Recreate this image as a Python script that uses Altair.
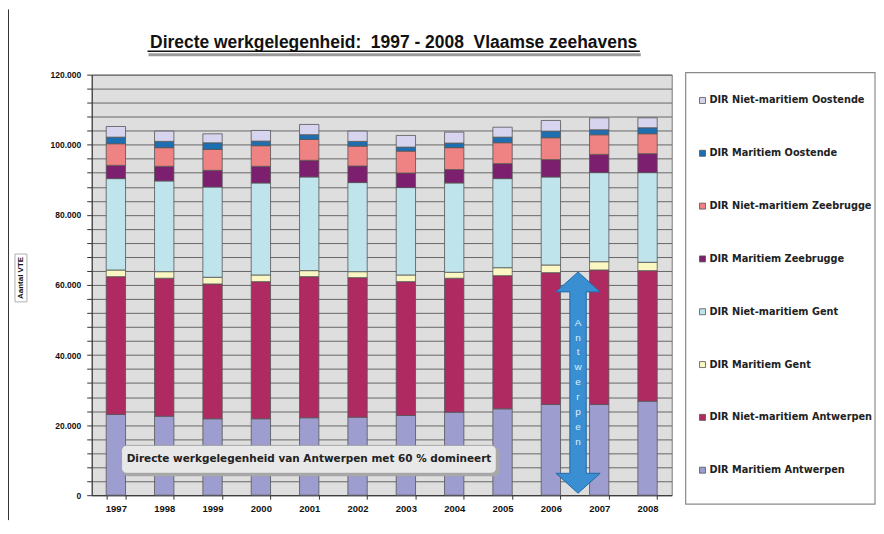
import altair as alt
import pandas as pd

FONT = "Liberation Sans"
WIDE = "DejaVu Sans"

years = ["1997", "1998", "1999", "2000", "2001", "2002",
         "2003", "2004", "2005", "2006", "2007", "2008"]

# stacking order: bottom -> top
series = [
    "DIR Maritiem Antwerpen",
    "DIR Niet-maritiem Antwerpen",
    "DIR Maritiem Gent",
    "DIR Niet-maritiem Gent",
    "DIR Maritiem Zeebrugge",
    "DIR Niet-maritiem Zeebrugge",
    "DIR Maritiem Oostende",
    "DIR Niet-maritiem Oostende",
]

mar_antwerpen = [23030, 22550, 21810, 21810, 22100, 22270, 22750, 23690, 24650, 25880, 25880, 26820]
niet_antwerpen = [39330, 39360, 38470, 39130, 40270, 39810, 38190, 38220, 37990, 37620, 38390, 37250]
mar_gent = [1900, 1880, 1900, 1900, 1710, 1710, 1900, 1710, 2280, 2190, 2360, 2390]
niet_gent = [26080, 25880, 25760, 26250, 26730, 25420, 24940, 25480, 25420, 25110, 25420, 25590]
mar_zeebrugge = [3780, 4180, 4750, 4750, 4750, 4720, 4150, 3810, 4270, 4950, 5200, 5400]
niet_zeebrugge = [6170, 5320, 5970, 5890, 5970, 5690, 6260, 6260, 5970, 6260, 5600, 5690]
mar_oostende = [1880, 1790, 1900, 1310, 1340, 1340, 1140, 1310, 1590, 1880, 1420, 1710]
niet_oostende = [3040, 2930, 2560, 3040, 2930, 2930, 3330, 3130, 2840, 3040, 3410, 2840]

colors = ["#9d9dd0", "#b02a62", "#fbf7c2", "#bfe4ec",
          "#7b1f6e", "#ef8282", "#1d6fb2", "#d6d4ee"]

NB = "\u00a0"
title_text = f"Directe werkgelegenheid:{NB} 1997 - 2008{NB} Vlaamse zeehavens"
note_text = "Directe werkgelegenheid van Antwerpen met 60 % domineert"
arrow_text = "Antwerpen"
y_title = "Aantal VTE"

values = [mar_antwerpen, niet_antwerpen, mar_gent, niet_gent,
          mar_zeebrugge, niet_zeebrugge, mar_oostende, niet_oostende]

rows = []
for i, (s, vals) in enumerate(zip(series, values)):
    for y, v in zip(years, vals):
        rows.append({"year": y, "series": s, "value": v, "idx": i})
df = pd.DataFrame(rows)

legend_order = series[::-1]
legend_colors = colors[::-1]

one = pd.DataFrame({"a": [0]})

bars = alt.Chart(df).mark_bar(stroke="#555555", strokeWidth=0.8).encode(
    x=alt.X("year:N", sort=years,
            scale=alt.Scale(paddingInner=0.6, paddingOuter=0.3),
            axis=alt.Axis(title=None, labelAngle=0, labelFont=FONT, labelFontSize=9.5,
                          labelFontWeight="bold", labelColor="#111", tickBand="extent",
                          tickSize=4, tickColor="#333", domainColor="#333",
                          labelPadding=4, grid=False)),
    y=alt.Y("value:Q", stack="zero",
            scale=alt.Scale(domain=[0, 120000], nice=False),
            axis=alt.Axis(title=None, values=list(range(0, 120001, 4000)),
                          labelExpr="datum.value % 20000 === 0 ? replace(format(datum.value, ','), ',', '.') : ''",
                          labelFont=FONT, labelFontSize=8.5, labelFontWeight="bold",
                          labelColor="#111", labelOverlap=False, tickSize=5,
                          tickColor="#333", domainColor="#333", labelPadding=6,
                          grid=True, gridColor="#666666", gridWidth=1)),
    color=alt.Color("series:N",
                    scale=alt.Scale(domain=legend_order, range=legend_colors),
                    legend=alt.Legend(title=None, orient="none", legendX=608, legendY=21,
                                      padding=0, symbolType="square", symbolSize=36,
                                      symbolStrokeColor="#555", symbolStrokeWidth=0.8,
                                      labelFont=WIDE, labelFontSize=9.8,
                                      labelFontWeight="bold", labelColor="#222",
                                      rowPadding=42, labelOffset=2, labelLimit=250)),
    order=alt.Order("idx:Q", sort="ascending"),
)

legend_box = alt.Chart(one).mark_rect(fillOpacity=0, stroke="#8a8a8a", strokeWidth=1.2).encode(
    x=alt.value(596), x2=alt.value(786), y=alt.value(-2), y2=alt.value(431))

frame_left = alt.Chart(one).mark_rule(color="#333333", strokeWidth=1).encode(
    x=alt.value(-83.5), y=alt.value(-65.5), y2=alt.value(447))

title_mark = alt.Chart(pd.DataFrame({"t": [title_text]})).mark_text(
    font=FONT, fontSize=17.5, fontWeight="bold", baseline="alphabetic", align="center",
    color="#111").encode(text="t:N", x=alt.value(303), y=alt.value(-27))
title_shadow = alt.Chart(one).mark_rule(color="#9a9a9a", strokeWidth=3).encode(
    x=alt.value(57), x2=alt.value(551), y=alt.value(-20))
title_line = alt.Chart(one).mark_rule(color="#111", strokeWidth=1.3).encode(
    x=alt.value(56), x2=alt.value(550), y=alt.value(-23.5))

ytitle_box = alt.Chart(one).mark_rect(fill="white", stroke="#b0b0b0", strokeWidth=1).encode(
    x=alt.value(-77), x2=alt.value(-65), y=alt.value(180), y2=alt.value(228))
ytitle_mark = alt.Chart(pd.DataFrame({"t": [y_title]})).mark_text(
    font=FONT, fontSize=8, fontWeight="bold", angle=270, align="center", baseline="middle",
    color="#111").encode(text="t:N", x=alt.value(-71), y=alt.value(204))

note_shadow = alt.Chart(one).mark_rect(cornerRadius=5, fill="#a8a8a8").encode(
    x=alt.value(32), x2=alt.value(409), y=alt.value(374), y2=alt.value(403))
note_box = alt.Chart(one).mark_rect(cornerRadius=5, fill="#e8e8e8", stroke="#9a9a9a",
                                    strokeWidth=0.8).encode(
    x=alt.value(30), x2=alt.value(406), y=alt.value(372), y2=alt.value(400))
note_mark = alt.Chart(pd.DataFrame({"t": [note_text]})).mark_text(
    font=WIDE, fontSize=10.5, fontWeight="bold", align="center", baseline="middle",
    color="#222").encode(text="t:N", x=alt.value(218), y=alt.value(386))

arrow_path = ("M0,-1 L0.2,-0.82 L0.074,-0.82 L0.074,0.82 L0.2,0.82 L0,1 "
              "L-0.2,0.82 L-0.074,0.82 L-0.074,-0.82 L-0.2,-0.82 Z")
arrow = alt.Chart(one).mark_point(shape=arrow_path, size=222 * 222, filled=True,
                                  fill="#3a8fd2", stroke="#2468a6", strokeWidth=1,
                                  opacity=1).encode(x=alt.value(488), y=alt.value(309))
arrow_label = alt.Chart(pd.DataFrame({"t": ["\n".join(list(arrow_text))]})).mark_text(
    font=FONT, fontSize=10, lineBreak="\n", lineHeight=14.9, align="center",
    baseline="middle", color="#dcefff").encode(text="t:N", x=alt.value(488), y=alt.value(249))

chart = alt.layer(
    bars, legend_box, frame_left, title_shadow, title_line, title_mark, ytitle_box, ytitle_mark,
    note_shadow, note_box, note_mark, arrow, arrow_label
).properties(
    width=582, height=422,
    autosize=alt.AutoSizeParams(type="none"),
    padding={"left": 84, "top": 66, "right": 205, "bottom": 26},
    background="white",
).configure_view(stroke="#777777", fill="#dedede")

chart.save("out.html", embed_options={"renderer": "svg", "actions": False})
